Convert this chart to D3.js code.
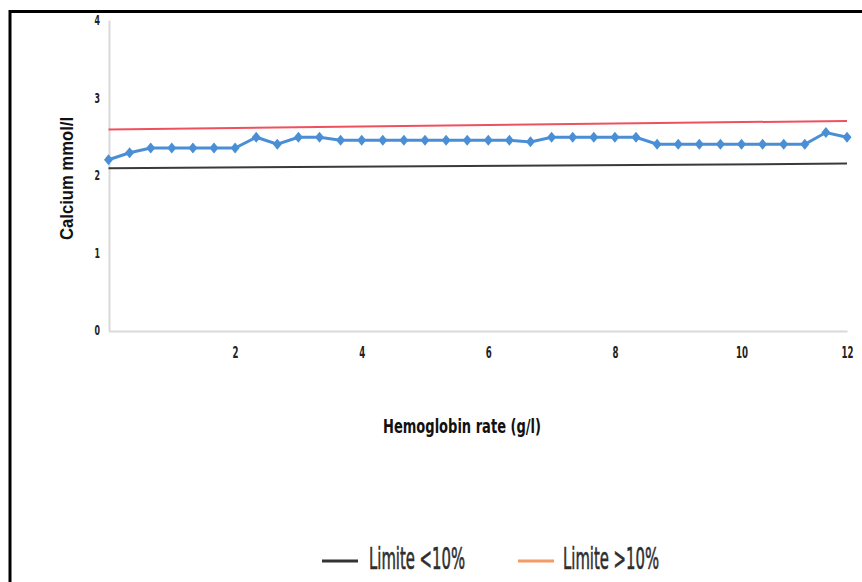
<!DOCTYPE html>
<html>
<head>
<meta charset="utf-8">
<script src="https://cdn.jsdelivr.net/npm/d3@7/dist/d3.min.js"></script>
<style>
  html, body { margin: 0; padding: 0; background: #fff; }
  svg { display: block; }
</style>
</head>
<body>
<svg id="chart" width="862" height="582"></svg>
<script>
// ---- data ----
const xTickIndex = [6, 12, 18, 24, 30, 35];
const xTickLabels = ["2", "4", "6", "8", "10", "12"];
const yTicks = [0, 1, 2, 3, 4];
const calcium = [2.20, 2.29, 2.35, 2.35, 2.35, 2.35, 2.35, 2.49, 2.40, 2.49,
                 2.49, 2.45, 2.45, 2.45, 2.45, 2.45, 2.45, 2.45, 2.45, 2.45,
                 2.43, 2.49, 2.49, 2.49, 2.49, 2.49, 2.40, 2.40, 2.40, 2.40,
                 2.40, 2.40, 2.40, 2.40, 2.55, 2.49];
const limitIndex = [0, 35];
const limitLow = [2.09, 2.15];   // Limite <10%
const limitHigh = [2.59, 2.70];  // Limite >10%
const legendLabels = ["Limite <10%", "Limite >10%"];
const legendColors = ["#333333", "#f39a66"];

// ---- layout ----
const svg = d3.select("#chart");
const x = d3.scaleLinear().domain([0, calcium.length - 1]).range([108.5, 847]);
const y = d3.scaleLinear().domain([0, 4]).range([330.5, 20]);

// frame (top + left border)
svg.append("line").attr("x1", 10).attr("x2", 862).attr("y1", 11.5).attr("y2", 11.5)
  .attr("stroke", "#000").attr("stroke-width", 3);
svg.append("line").attr("x1", 10).attr("x2", 10).attr("y1", 10).attr("y2", 582)
  .attr("stroke", "#000").attr("stroke-width", 3);

const condFont = "'Liberation Sans Narrow', 'Arial Narrow', 'DejaVu Sans Condensed', sans-serif";

// y axis
const yAxis = svg.append("g").attr("transform", "translate(109,0)")
  .call(d3.axisLeft(y).tickValues(yTicks).tickSize(0).tickPadding(9).tickFormat(d3.format("d")));
yAxis.select(".domain").attr("stroke", "#d9d9d9").attr("stroke-width", 2);
yAxis.selectAll("text").attr("font-family", condFont).attr("font-weight", "bold")
  .attr("font-size", 14).attr("fill", "#222")
  .attr("textLength", d => String(d).length * 5.5).attr("lengthAdjust", "spacingAndGlyphs");

// x axis
const xAxis = svg.append("g").attr("transform", "translate(0,331)")
  .call(d3.axisBottom(x).tickValues(xTickIndex).tickSize(0).tickPadding(16)
    .tickFormat((d, i) => xTickLabels[i]));
xAxis.select(".domain").attr("stroke", "#d9d9d9").attr("stroke-width", 2);
xAxis.selectAll("text").attr("font-family", condFont).attr("font-weight", "bold")
  .attr("font-size", 15).attr("fill", "#222")
  .attr("textLength", (d, i) => xTickLabels[i].length * 6).attr("lengthAdjust", "spacingAndGlyphs");

// limit lines
const limLine = d3.line().x((d, i) => x(limitIndex[i])).y(d => y(d));
svg.append("path").datum(limitLow).attr("d", limLine)
  .attr("fill", "none").attr("stroke", "#3a3a3a").attr("stroke-width", 2);
svg.append("path").datum(limitHigh).attr("d", limLine)
  .attr("fill", "none").attr("stroke", "#f0505e").attr("stroke-width", 2);

// calcium series
const line = d3.line().x((d, i) => x(i)).y(d => y(d));
svg.append("path").datum(calcium).attr("d", line)
  .attr("fill", "none").attr("stroke", "#4a8fd6").attr("stroke-width", 3);
svg.append("g").selectAll("path").data(calcium).join("path")
  .attr("transform", (d, i) => `translate(${x(i)},${y(d)})`)
  .attr("d", "M0,-5.5L4.5,0L0,5.5L-4.5,0Z")
  .attr("fill", "#4a8fd6");

// axis titles
svg.append("text")
  .attr("transform", "translate(73,178.5) rotate(-90)")
  .attr("text-anchor", "middle")
  .attr("font-family", "'Liberation Sans', Arial, sans-serif")
  .attr("font-weight", "bold").attr("font-size", 18).attr("fill", "#111")
  .attr("textLength", 123).attr("lengthAdjust", "spacingAndGlyphs")
  .text("Calcium mmol/l");

svg.append("text")
  .attr("x", 383).attr("y", 433)
  .attr("font-family", condFont)
  .attr("font-weight", "bold").attr("font-size", 19).attr("fill", "#111")
  .attr("textLength", 158).attr("lengthAdjust", "spacingAndGlyphs")
  .text("Hemoglobin rate (g/l)");

// legend
const legendX = [322, 518];
const legendTextX = [369, 563];
const lg = svg.append("g");
legendLabels.forEach((lab, i) => {
  lg.append("line").attr("x1", legendX[i]).attr("x2", legendX[i] + 36)
    .attr("y1", 561).attr("y2", 561)
    .attr("stroke", legendColors[i]).attr("stroke-width", 3);
  lg.append("text").attr("x", legendTextX[i]).attr("y", 569)
    .attr("font-family", condFont).attr("font-size", 30).attr("fill", "#2e2e2e")
    .attr("stroke", "#2e2e2e").attr("stroke-width", 0.6)
    .attr("textLength", 96).attr("lengthAdjust", "spacingAndGlyphs")
    .text(lab);
});
</script>
</body>
</html>
